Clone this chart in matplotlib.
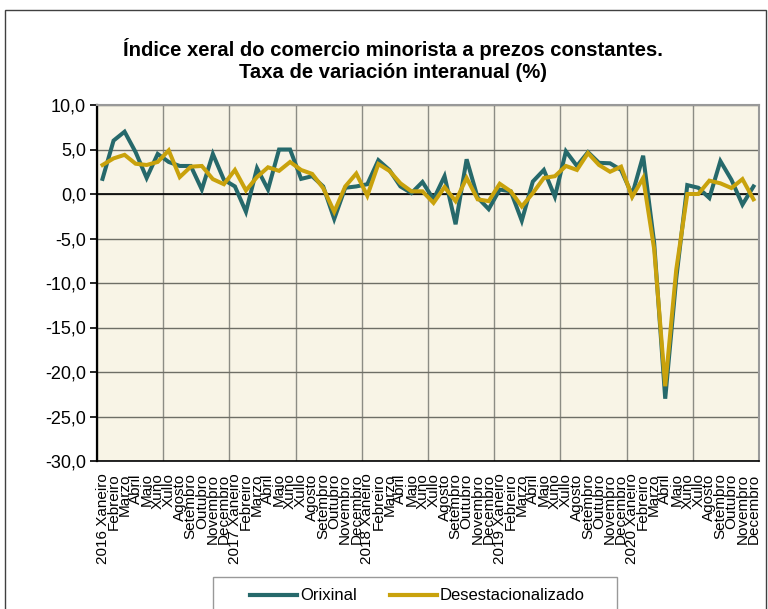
import matplotlib
matplotlib.use("Agg")
import matplotlib.pyplot as plt
from matplotlib.patches import Rectangle
import numpy as np

plt.rcParams['font.family'] = ['Liberation Sans', 'DejaVu Sans']

months = ["Xaneiro", "Febreiro", "Marzo", "Abril", "Maio", "Xuño", "Xullo",
          "Agosto", "Setembro", "Outubro", "Novembro", "Decembro"]
years = [2016, 2017, 2018, 2019, 2020]
labels = []
for y in years:
    for j, m in enumerate(months):
        labels.append(f"{y} {m}" if j == 0 else m)

orixinal = [1.7, 6.0, 7.0, 4.7, 1.8, 4.5, 3.6, 3.15, 3.15, 0.5, 4.5, 1.6,
            0.85, -2.0, 2.9, 0.5, 5.0, 5.0, 1.7, 2.0, 0.85, -2.8, 0.7, 0.85,
            1.1, 3.8, 2.7, 0.85, 0.1, 1.35, -0.6, 2.0, -3.4, 3.9, -0.4, -1.7,
            0.5, 0.3, -3.0, 1.4, 2.7, -0.3, 4.8, 3.15, 4.7, 3.5, 3.45, 2.7,
            -0.1, 4.3, -5.5, -23.0, -9.5, 1.0, 0.7, -0.45, 3.7, 1.6, -1.2, 0.85]
desest = [3.26, 4.0, 4.4, 3.4, 3.26, 3.6, 4.9, 1.9, 3.07, 3.15, 1.67, 1.1,
          2.7, 0.4, 1.9, 3.0, 2.6, 3.6, 2.7, 2.26, 0.67, -2.0, 0.85, 2.3,
          -0.2, 3.37, 2.6, 1.2, 0.3, 0.3, -1.0, 0.78, -0.8, 1.8, -0.6, -0.8,
          1.15, 0.3, -1.4, 0.1, 1.8, 2.0, 3.15, 2.7, 4.6, 3.26, 2.5, 3.07,
          -0.33, 1.8, -6.2, -21.6, -8.5, 0.0, 0.0, 1.5, 1.2, 0.67, 1.67, -0.6]

yticks = [10, 5, 0, -5, -10, -15, -20, -25, -30]

W, H = 768, 609
fig = plt.figure(figsize=(W / 100, H / 100), dpi=100)
fig.patch.set_facecolor('white')

# outer frame
fig.patches.append(Rectangle((5 / W, -0.05), 761 / W, 1 - 10 / H + 0.05,
                             transform=fig.transFigure, fill=False,
                             edgecolor='#404040', linewidth=1.0))
# legend frame
fig.patches.append(Rectangle((213 / W, -0.05), (617 - 213) / W, 1 - 577 / H + 0.05,
                             transform=fig.transFigure, fill=False,
                             edgecolor='#999999', linewidth=1.0))

ax = fig.add_axes([97 / W, 1 - 461 / H, (759 - 97) / W, (461 - 105) / H])
ax.set_facecolor('#F8F4E6')

x = np.arange(len(labels))
ax.plot(x, orixinal, color='#26696B', linewidth=2.9, label='Orixinal',
        solid_joinstyle='miter', zorder=3)
ax.plot(x, desest, color='#C9A20C', linewidth=2.9, label='Desestacionalizado',
        solid_joinstyle='miter', zorder=4)

ax.set_xlim(-0.5, len(labels) - 0.5)
ax.set_ylim(-30, 10)
ax.set_yticks(yticks)
ax.set_yticklabels([f"{v:.1f}".replace('.', ',') for v in yticks], fontsize=13)
ax.set_xticks(x)
ax.set_xticklabels(labels, rotation=90, fontsize=11, ha='center', va='top')
ax.tick_params(axis='x', length=0, pad=9)
ax.tick_params(axis='y', length=5, width=1.2, direction='out', pad=3)

ax.set_xticks(np.arange(-0.5, len(labels), 6), minor=True)
ax.tick_params(axis='x', which='minor', length=0)
ax.grid(True, axis='x', which='minor', color='#8C8C84', linewidth=1.0, zorder=1)
ax.grid(True, axis='y', which='major', color='#6E6E66', linewidth=1.0, zorder=1)
ax.axhline(0, color='black', linewidth=1.2, zorder=2)

for s in ['top', 'right']:
    ax.spines[s].set_color('#999999')
    ax.spines[s].set_linewidth(1.5)
ax.spines['left'].set_color('black')
ax.spines['left'].set_linewidth(1.6)
ax.spines['bottom'].set_color('black')
ax.spines['bottom'].set_linewidth(1.2)

fig.text(393 / W, 1 - 59.5 / H,
         "Índice xeral do comercio minorista a prezos constantes.\nTaxa de variación interanual (%)",
         ha='center', va='center', fontsize=14.6, fontweight='bold',
         linespacing=1.2)

leg = fig.legend(loc='center left', bbox_to_anchor=(250 / W, 1 - 596 / H),
                 ncol=2, fontsize=12, frameon=False,
                 handlelength=2.8, handletextpad=0.2, columnspacing=2.0,
                 borderpad=0, borderaxespad=0)
for line in leg.get_lines():
    line.set_linewidth(3.0)

fig.savefig('out.png', dpi=100)
